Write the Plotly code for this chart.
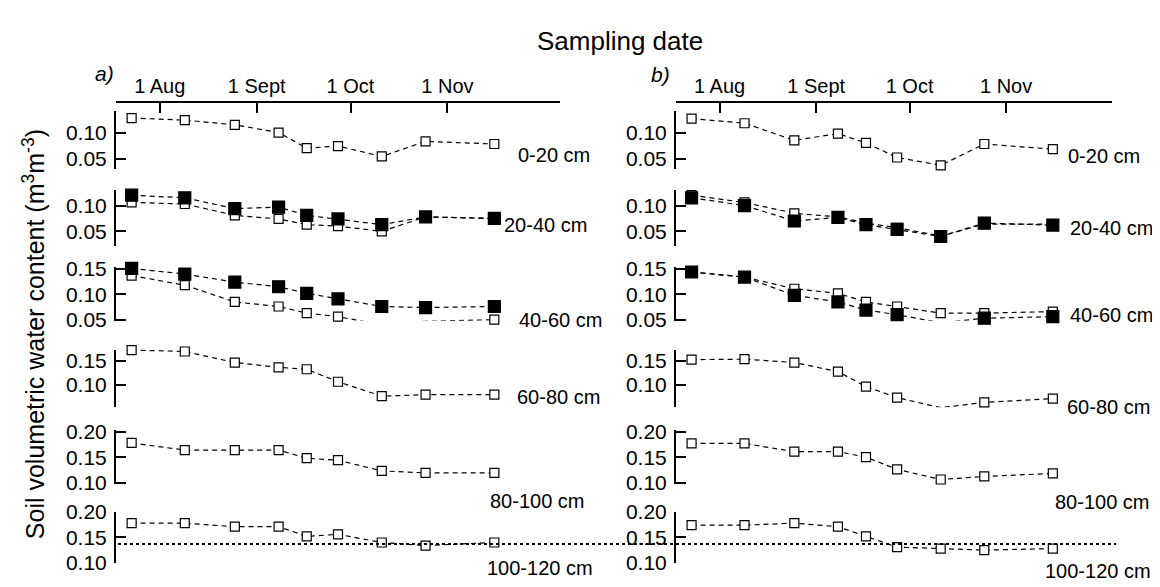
import plotly.graph_objects as go

W, H = 1160, 587

dates = ["1997-07-23", "1997-08-09", "1997-08-25", "1997-09-08", "1997-09-17",
         "1997-09-27", "1997-10-11", "1997-10-25", "1997-11-16"]

tick_dates = ["1997-08-01", "1997-09-01", "1997-10-01", "1997-11-01"]
tick_text = ["1 Aug", "1 Sept", "1 Oct", "1 Nov"]

depths = ["0-20 cm", "20-40 cm", "40-60 cm", "60-80 cm", "80-100 cm", "100-120 cm"]

# panel a) open-square series per depth
a_open_0_20 = [0.128, 0.124, 0.115, 0.100, 0.070, 0.074, 0.054, 0.083, 0.078]
a_open_20_40 = [0.106, 0.103, 0.081, 0.074, 0.063, 0.060, 0.050, 0.078, 0.075]
a_open_40_60 = [0.137, 0.118, 0.085, 0.076, 0.063, 0.056, 0.040, 0.047, 0.050]
a_open_60_80 = [0.173, 0.170, 0.147, 0.137, 0.133, 0.107, 0.077, 0.080, 0.080]
a_open_80_100 = [0.178, 0.164, 0.164, 0.164, 0.148, 0.144, 0.123, 0.119, 0.119]
a_open_100_120 = [0.178, 0.178, 0.171, 0.171, 0.152, 0.156, 0.140, 0.134, 0.140]
# panel a) filled-square series
a_fill_20_40 = [0.120, 0.115, 0.094, 0.097, 0.081, 0.074, 0.063, 0.078, 0.075]
a_fill_40_60 = [0.151, 0.140, 0.124, 0.115, 0.102, 0.091, 0.076, 0.074, 0.076]

# panel b)
b_open_0_20 = [0.127, 0.118, 0.085, 0.098, 0.080, 0.052, 0.037, 0.078, 0.068]
b_open_20_40 = [0.120, 0.106, 0.085, 0.078, 0.066, 0.057, 0.041, 0.064, 0.064]
b_open_40_60 = [0.144, 0.134, 0.111, 0.102, 0.085, 0.076, 0.063, 0.063, 0.066]
b_open_60_80 = [0.153, 0.154, 0.147, 0.128, 0.097, 0.074, 0.053, 0.064, 0.072]
b_open_80_100 = [0.177, 0.177, 0.161, 0.161, 0.150, 0.126, 0.106, 0.112, 0.118]
b_open_100_120 = [0.174, 0.174, 0.178, 0.171, 0.152, 0.131, 0.128, 0.125, 0.128]
b_fill_20_40 = [0.115, 0.100, 0.070, 0.077, 0.063, 0.054, 0.040, 0.066, 0.062]
b_fill_40_60 = [0.144, 0.134, 0.098, 0.085, 0.069, 0.060, 0.044, 0.053, 0.056]

ref_line_value = 0.137

row_ticks = [[0.05, 0.10], [0.05, 0.10], [0.05, 0.10, 0.15],
             [0.10, 0.15], [0.10, 0.15, 0.20], [0.10, 0.15, 0.20]]
row_ranges = [[0.030, 0.141], [0.022, 0.130], [0.048, 0.154],
              [0.054, 0.174], [0.097, 0.203], [0.100, 0.200]]
row_px = [(95, 155), (177, 235), (257, 313), (343, 403), (427, 483), (512, 565)]

FONT = "Liberation Sans, Arial, sans-serif"

def px(x):
    return x / W

def py(y):
    return 1 - y / H

fig = go.Figure()

a_open = [a_open_0_20, a_open_20_40, a_open_40_60, a_open_60_80, a_open_80_100, a_open_100_120]
b_open = [b_open_0_20, b_open_20_40, b_open_40_60, b_open_60_80, b_open_80_100, b_open_100_120]
a_fill = {1: a_fill_20_40, 2: a_fill_40_60}
b_fill = {1: b_fill_20_40, 2: b_fill_40_60}

def add_series(xa, ya, vals, filled):
    fig.add_trace(go.Scatter(
        x=dates, y=vals, xaxis=xa, yaxis=ya, mode="lines+markers",
        line=dict(color="black", width=1.2, dash="5px,4px"),
        marker=dict(symbol="square", size=12 if filled else 9,
                    color="black" if filled else "white",
                    line=dict(color="black", width=1.2)),
        cliponaxis=False, showlegend=False, hoverinfo="skip"))

for i in range(6):
    ya = "y" if i == 0 else f"y{i+1}"
    yb = f"y{i+7}"
    add_series("x", ya, a_open[i], False)
    add_series("x2", yb, b_open[i], False)
    if i in a_fill:
        add_series("x", ya, a_fill[i], True)
        add_series("x2", yb, b_fill[i], True)

layout = dict(
    width=W, height=H, margin=dict(l=0, r=0, t=0, b=0),
    paper_bgcolor="white", plot_bgcolor="white",
    font=dict(family=FONT, size=20, color="black"),
    showlegend=False,
)

xcommon = dict(type="date", side="top", anchor="free", position=py(85),
               showline=True, linecolor="black", linewidth=2,
               ticks="inside", ticklen=10, tickwidth=2, tickcolor="black",
               tickvals=tick_dates, ticktext=tick_text, showgrid=False,
               zeroline=False, tickfont=dict(size=20))
layout["xaxis"] = dict(xcommon, domain=[px(108), px(552)],
                       range=["1997-07-18", "1997-12-07"])
layout["xaxis2"] = dict(xcommon, domain=[px(668), px(1104)],
                        range=["1997-07-18", "1997-12-05"])

for i in range(6):
    t, b = row_px[i]
    ycommon = dict(domain=[py(b), py(t)], range=row_ranges[i],
                   showline=True, linecolor="black", linewidth=2,
                   ticks="inside", ticklen=10, tickwidth=2, tickcolor="black",
                   tickvals=row_ticks[i], ticktext=[f"{v:.2f}" for v in row_ticks[i]],
                   showgrid=False, zeroline=False, tickfont=dict(size=21),
                   ticklabelstandoff=3)
    key_a = "yaxis" if i == 0 else f"yaxis{i+1}"
    layout[key_a] = dict(ycommon, anchor="x")
    layout[f"yaxis{i+7}"] = dict(ycommon, anchor="x2")

fig.update_layout(**layout)

fig.add_shape(type="line", xref="paper", yref="y6", x0=px(110), x1=px(1108),
              y0=ref_line_value, y1=ref_line_value,
              line=dict(color="black", width=2, dash="dot"))

label_pos_a = [(508, 140), (494, 213), (509, 312), (507, 392), (480, 501), (477, 570)]
label_pos_b = [(1058, 142), (1060, 217), (1060, 307), (1057, 403), (1045, 502), (1035, 573)]
for i, d in enumerate(depths):
    for (x, y) in (label_pos_a[i], label_pos_b[i]):
        fig.add_annotation(text=d, xref="paper", yref="paper", x=px(x), y=py(y),
                           xanchor="left", yanchor="middle", showarrow=False,
                           font=dict(size=20))

fig.add_annotation(text="Sampling date", xref="paper", yref="paper",
                   x=px(612), y=py(22), xanchor="center", yanchor="middle",
                   showarrow=False, font=dict(size=26))
fig.add_annotation(text="<i>a)</i>", xref="paper", yref="paper",
                   x=px(96), y=py(56), xanchor="center", yanchor="middle",
                   showarrow=False, font=dict(size=21))
fig.add_annotation(text="<i>b)</i>", xref="paper", yref="paper",
                   x=px(652), y=py(57), xanchor="center", yanchor="middle",
                   showarrow=False, font=dict(size=21))
fig.add_annotation(text="Soil volumetric water content (m<sup>3</sup>m<sup>-3</sup>)",
                   xref="paper", yref="paper", x=px(26), y=py(327),
                   xanchor="center", yanchor="middle", textangle=-90,
                   showarrow=False, font=dict(size=25))

fig.write_html("out.html")
